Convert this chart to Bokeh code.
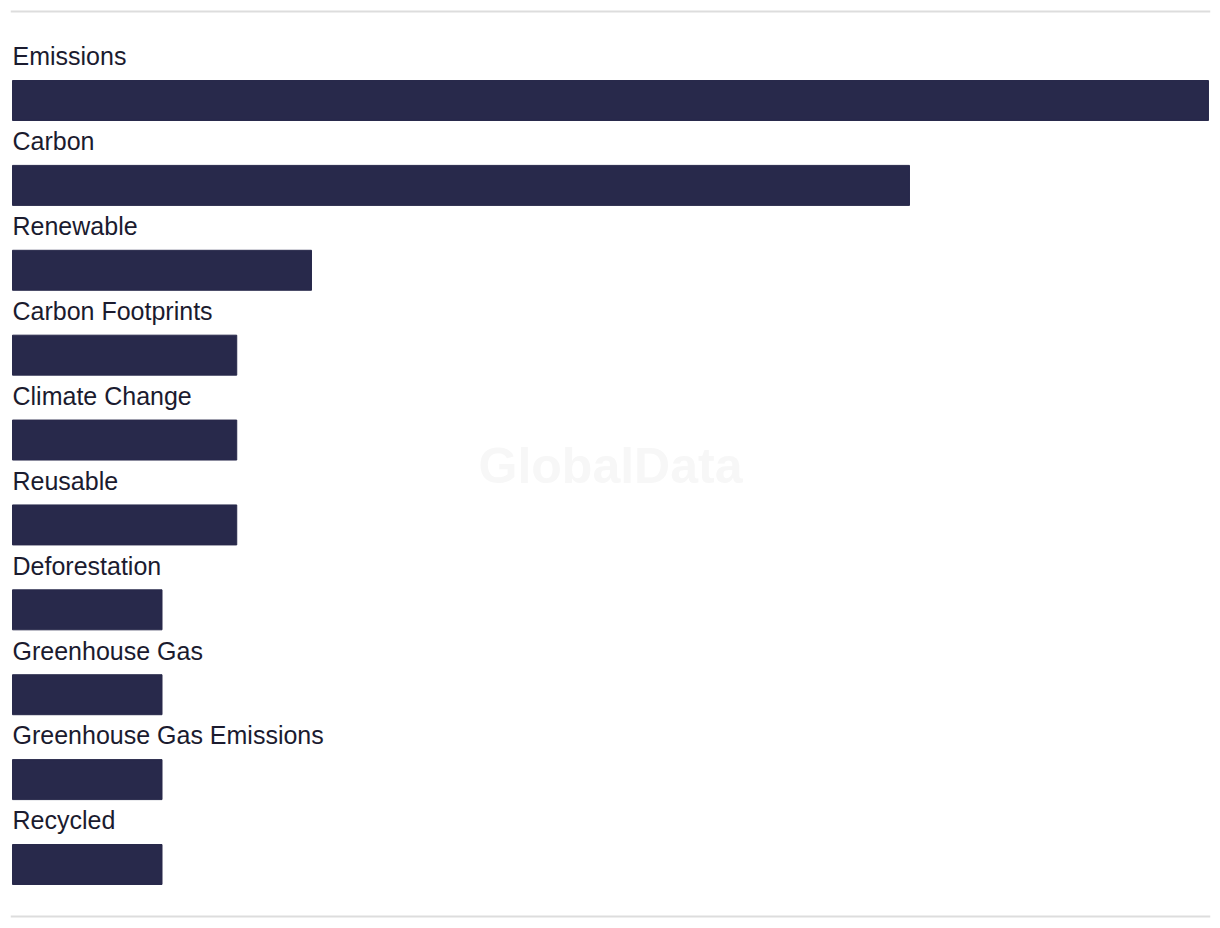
from bokeh.plotting import figure
from bokeh.models import ColumnDataSource, Span, Label, Range1d
from bokeh.core.properties import value
from bokeh.embed import file_html
from bokeh.resources import INLINE

categories = ["Emissions", "Carbon", "Renewable", "Carbon Footprints", "Climate Change",
              "Reusable", "Deforestation", "Greenhouse Gas", "Greenhouse Gas Emissions", "Recycled"]
values = [16, 12, 4, 3, 3, 3, 2, 2, 2, 2]

BAR_COLOR = "#28294b"
TEXT_COLOR = "#1b1b2f"

idx = list(range(len(categories)))
src = ColumnDataSource(dict(
    y=idx,
    v=values,
    label=categories,
    ly=[i - 0.52 for i in idx],
    lx=[0] * len(idx),
))

p = figure(width=1220, height=928, output_backend="svg", toolbar_location=None,
           min_border_left=10, min_border_right=10, min_border_top=0, min_border_bottom=0,
           x_range=Range1d(-0.0268, 16.027), y_range=Range1d(9.754, -1.178))
p.axis.visible = False
p.grid.visible = False
p.outline_line_color = None
p.background_fill_color = "white"
p.border_fill_color = "white"

p.hbar(y="y", right="v", left=0, height=0.471, source=src, color=BAR_COLOR)
p.text(x="lx", y="ly", text="label", source=src, text_font=value("Liberation Sans"),
       text_font_size="25px", text_color=TEXT_COLOR, text_baseline="alphabetic",
       text_align="left")

for loc in (-1.048, 9.612):
    p.add_layout(Span(location=loc, dimension="width", line_color="#dddddd", line_width=2))

p.add_layout(Label(x=600, y=463, x_units="screen", y_units="screen", text="GlobalData",
                   text_font="Liberation Sans", text_font_style="bold", text_font_size="50px",
                   text_color="#f7f7f7", text_align="center", text_baseline="middle"))

open("out.html", "w").write(file_html(p, INLINE))
